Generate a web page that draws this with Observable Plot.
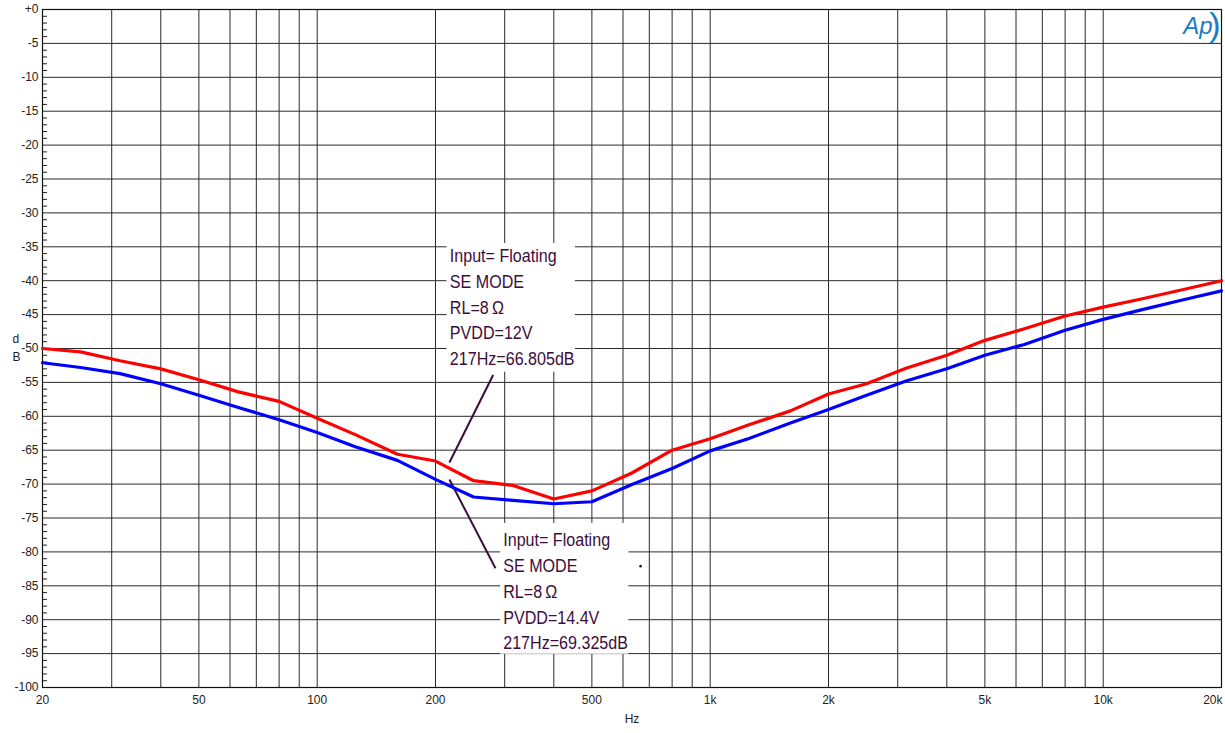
<!DOCTYPE html>
<html>
<head>
<meta charset="utf-8">
<script src="https://cdn.jsdelivr.net/npm/d3@7"></script>
<script src="https://cdn.jsdelivr.net/npm/@observablehq/plot@0.6"></script>
<style>
  html, body { margin: 0; padding: 0; background: #fff; }
  #chart svg { display: block; }
</style>
</head>
<body>
<div id="chart"></div>
<script>
// Frequency points (Hz), 1/3-octave
const freqs = [20,25,31.5,40,50,63,80,100,125,160,200,250,315,400,500,630,800,1000,1250,1600,2000,2500,3150,4000,5000,6300,8000,10000,12500,16000,20000];
// PVDD = 12 V (red)
const pvdd12 = [-50.0,-50.5,-51.8,-53.0,-54.6,-56.4,-57.8,-60.3,-62.7,-65.6,-66.6,-69.5,-70.2,-72.2,-71.0,-68.4,-65.0,-63.3,-61.3,-59.2,-56.7,-55.2,-52.9,-51.0,-48.8,-47.1,-45.2,-43.9,-42.7,-41.3,-40.0];
// PVDD = 14.4 V (blue)
const pvdd144 = [-52.1,-52.8,-53.7,-55.2,-56.9,-58.7,-60.5,-62.4,-64.5,-66.5,-69.3,-71.9,-72.4,-72.9,-72.6,-70.1,-67.7,-65.1,-63.3,-61.0,-59.0,-56.9,-54.8,-53.0,-51.0,-49.4,-47.3,-45.7,-44.3,-42.8,-41.5];

const xTickValues = [20,50,100,200,500,1000,2000,5000,10000,20000];
const xTickLabels = ["20","50","100","200","500","1k","2k","5k","10k","20k"];
const xGridValues = [20,30,40,50,60,70,80,90,100,200,300,400,500,600,700,800,900,1000,2000,3000,4000,5000,6000,7000,8000,9000,10000,20000];
const yTickValues = d3.range(-100, 1, 5);
const yMinorValues = d3.range(-100, 1, 1).filter(v => v % 5 !== 0);

const note12 = ["Input= Floating","SE MODE","RL=8\u2009Ω","PVDD=12V","217Hz=66.805dB"];
const note144 = ["Input= Floating","SE MODE","RL=8\u2009Ω","PVDD=14.4V","217Hz=69.325dB"];

const red = freqs.map((f, i) => ({f, v: pvdd12[i]}));
const blue = freqs.map((f, i) => ({f, v: pvdd144[i]}));

const lblFont = "'Liberation Sans', Arial, sans-serif";
const noteColor = "#3d0c3d";
const xFmt = d => xTickLabels[xTickValues.indexOf(d)];

const chart = Plot.plot({
  width: 1225,
  height: 733,
  marginLeft: 42,
  marginRight: 4,
  marginTop: 9,
  marginBottom: 46,
  style: {background: "#fff", fontFamily: lblFont, fontSize: "12px", color: "#222"},
  x: {type: "log", domain: [20, 20000]},
  y: {domain: [-100, 0]},
  marks: [
    Plot.gridX(xGridValues, {stroke: "#2a2a2a", strokeOpacity: 1, strokeWidth: 1}),
    Plot.gridY(yTickValues, {stroke: "#2a2a2a", strokeOpacity: 1, strokeWidth: 1}),
    Plot.ruleY(yMinorValues, {x1: 20, x2: 20.6, stroke: "#222", strokeWidth: 1}),
    Plot.frame({stroke: "#111", strokeWidth: 1.2}),
    Plot.axisY(yTickValues, {tickSize: 0, tickPadding: 4, tickFormat: d => d === 0 ? "+0" : String(d), fontSize: 12, fill: "#222", label: null}),
    Plot.axisX(xTickValues.slice(0, -1), {tickSize: 0, tickPadding: 8, tickFormat: xFmt, fontSize: 12, fill: "#222", label: null}),
    Plot.axisX(xTickValues.slice(-1), {tickSize: 0, tickPadding: 8, tickFormat: xFmt, fontSize: 12, fill: "#222", label: null, textAnchor: "end", dx: 1}),
    Plot.text(["Hz"], {frameAnchor: "bottom", dy: 35, fontSize: 12, fill: "#222"}),
    Plot.text(["d\nB"], {frameAnchor: "left", dx: -30, dy: -2, fontSize: 12, lineHeight: 1.45, fill: "#222"}),
    // annotation boxes (white backgrounds hiding the grid)
    Plot.rect([{x1: 214, x2: 454, y1: -34.5, y2: -53.5}, {x1: 293, x2: 621, y1: -75.8, y2: -95.1}],
      {x1: "x1", x2: "x2", y1: "y1", y2: "y2", fill: "#fff"}),
    Plot.text([note12.join("\n")], {x: 217.5, y: -34.6, textAnchor: "start", lineAnchor: "top", fontSize: 18.5, lineHeight: 1.39, fill: noteColor, fontFamily: lblFont, className: "note"}),
    Plot.text([note144.join("\n")], {x: 297.4, y: -76.5, textAnchor: "start", lineAnchor: "top", fontSize: 18.5, lineHeight: 1.39, fill: noteColor, fontFamily: lblFont, className: "note"}),
    // leader lines
    Plot.link([{x1: 280.4, y1: -53.9, x2: 217, y2: -66.805}, {x1: 217, y1: -69.325, x2: 284.2, y2: -82.4}],
      {x1: "x1", y1: "y1", x2: "x2", y2: "y2", stroke: noteColor, strokeWidth: 2}),
    Plot.dot([{x: 665, y: -82.1}], {x: "x", y: "y", r: 1.3, fill: "#222", stroke: "none"}),
    // curves
    Plot.line(blue, {x: "f", y: "v", stroke: "#0000ff", strokeWidth: 3.2, curve: "linear"}),
    Plot.line(red, {x: "f", y: "v", stroke: "#ff0000", strokeWidth: 3.2, curve: "linear"}),
    // Ap logo
    Plot.text(["Ap"], {frameAnchor: "top-right", dx: -9, dy: 7, fontSize: 24, fontStyle: "italic", fill: "#1b7cc0", fontFamily: lblFont}),
    Plot.text([")"], {frameAnchor: "top-right", dx: -1, dy: 2, fontSize: 34, fill: "#1b7cc0", fontFamily: lblFont})
  ]
});
// condense annotation text horizontally like the reference's narrow face
d3.select(chart).selectAll("g.note text").attr("transform", function() {
  return (this.getAttribute("transform") || "") + " scale(0.87,1)";
});
document.getElementById("chart").appendChild(chart);
</script>
</body>
</html>
